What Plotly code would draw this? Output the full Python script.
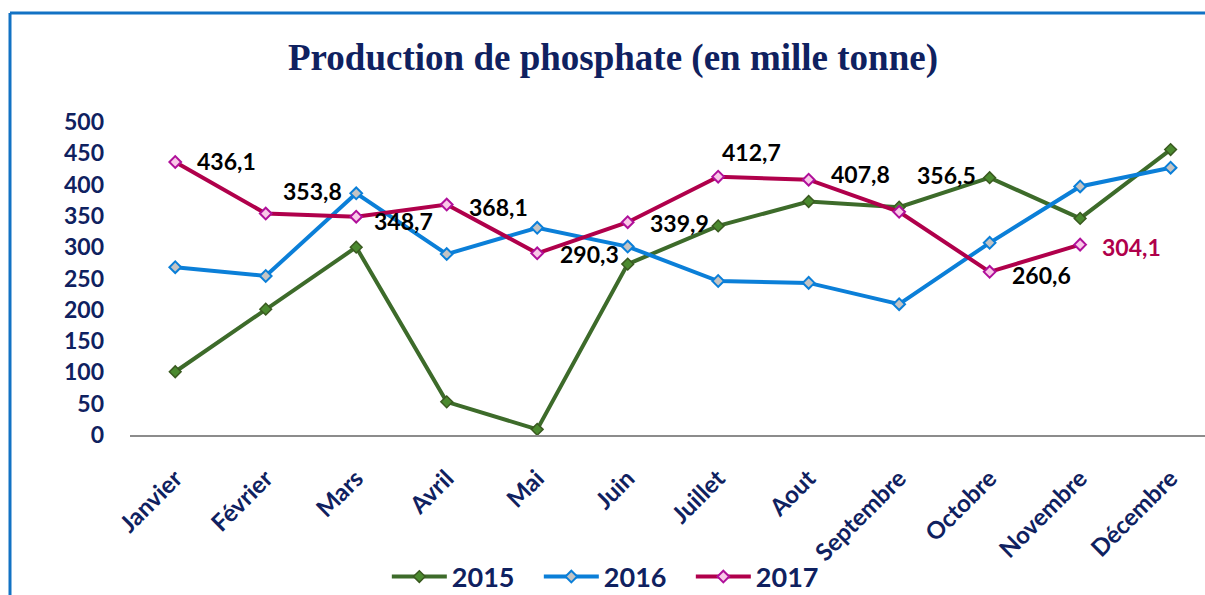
import plotly.graph_objects as go

months = ["Janvier", "Février", "Mars", "Avril", "Mai", "Juin", "Juillet",
          "Aout", "Septembre", "Octobre", "Novembre", "Décembre"]
prod_2015 = [101, 201, 300, 53, 9, 273, 334, 373, 364, 411, 346, 456]
prod_2016 = [268, 254, 386, 289, 331, 301, 246, 243, 209, 307, 397, 427]
prod_2017 = [436.1, 353.8, 348.7, 368.1, 290.3, 339.9, 412.7, 407.8, 356.5, 260.6, 304.1]
y_ticks = [0, 50, 100, 150, 200, 250, 300, 350, 400, 450, 500]

# label offsets (pixels) for the 2017 data labels
label_dx = [51, 47, 47, 52, 52, 52, 33, 52, 47, 52, 51]
label_dy = [1, 23, -4, -2, -1, -1, 25, 6, 37, -3, -2]
label_col = ["#000000"] * 10 + ["#b0004b"]

NAVY = "#0f2160"
FONT = "Lato"

fig = go.Figure()
fig.add_trace(go.Scatter(
    x=months, y=prod_2015, name="2015", mode="lines+markers",
    line=dict(color="#3d6b2a", width=4),
    marker=dict(symbol="diamond", size=9, color="#4b8a2f",
                line=dict(color="#3a5a20", width=1.5))))
fig.add_trace(go.Scatter(
    x=months, y=prod_2016, name="2016", mode="lines+markers",
    line=dict(color="#0b7fd8", width=4),
    marker=dict(symbol="diamond", size=9, color="#c4c4c4",
                line=dict(color="#0b7fd8", width=2))))
fig.add_trace(go.Scatter(
    x=months[:len(prod_2017)], y=prod_2017, name="2017", mode="lines+markers",
    line=dict(color="#b0004b", width=4),
    marker=dict(symbol="diamond", size=9, color="#f9c8e8",
                line=dict(color="#b0109a", width=2))))

for i, v in enumerate(prod_2017):
    fig.add_annotation(
        x=months[i], y=v, xref="x", yref="y",
        text=f"{v:.1f}".replace(".", ","), showarrow=False,
        xshift=label_dx[i], yshift=label_dy[i],
        font=dict(family=FONT, size=23, color=label_col[i], weight="bold"))

W, H = 1205, 595
ML, MR, MT, MB = 130, 0, 122, 160

def px_to_paper(px, py):
    return (px - ML) / (W - ML - MR), (H - MB - py) / (H - MT - MB)

x0, y0 = px_to_paper(10, 13)
x1, _ = px_to_paper(1205, 13)
_, y2 = px_to_paper(10, 600)
fig.add_shape(type="line", xref="paper", yref="paper", x0=x0, y0=y0, x1=x1, y1=y0,
              line=dict(color="#1272c4", width=3))
fig.add_shape(type="line", xref="paper", yref="paper", x0=x0, y0=y0, x1=x0, y1=y2,
              line=dict(color="#1272c4", width=3))

fig.update_layout(
    width=W, height=H, autosize=False,
    margin=dict(l=ML, r=MR, t=MT, b=MB, autoexpand=False),
    paper_bgcolor="white", plot_bgcolor="white",
    title=dict(text="Production de phosphate (en mille tonne)",
               x=613 / W, xanchor="center", y=1 - 57 / H, yanchor="middle",
               font=dict(family="Liberation Serif", size=37, color=NAVY, weight="bold")),
    xaxis=dict(type="category", range=[-0.5, 11.38], showgrid=False, automargin=False,
               showline=True, linecolor="#8c8c8c", linewidth=2,
               tickangle=-45, ticks="", ticklabelstandoff=18,
               tickfont=dict(family=FONT, size=24, color=NAVY, weight="bold")),
    yaxis=dict(range=[0, 500], tickvals=y_ticks, showgrid=False, zeroline=False,
               showline=False, ticks="", ticklabelstandoff=25, automargin=False,
               tickfont=dict(family=FONT, size=23, color=NAVY, weight="bold")),
    legend=dict(orientation="h", x=0.451, xanchor="center", y=(435 - 577) / 313,
                yanchor="middle", bgcolor="rgba(0,0,0,0)",
                itemwidth=55, entrywidth=82, entrywidthmode="pixels",
                font=dict(family=FONT, size=27, color=NAVY, weight="bold")),
    showlegend=True,
)

fig.write_html("out.html", config={"displayModeBar": False},
               post_script="document.body.style.margin='0';document.body.style.overflow='hidden';")
